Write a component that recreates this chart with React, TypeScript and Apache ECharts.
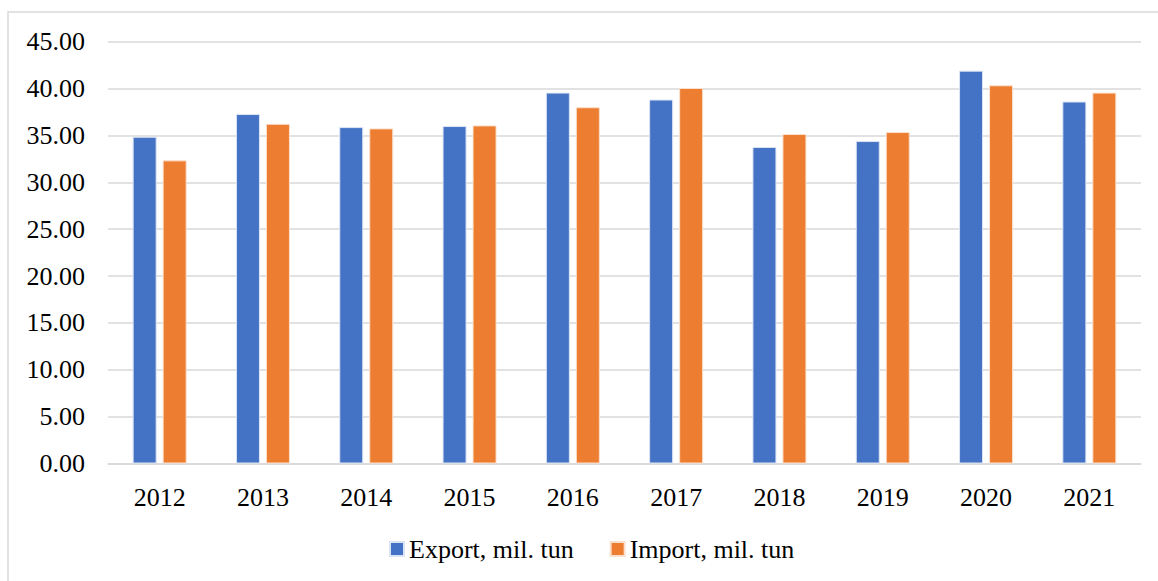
import React, { useEffect, useRef } from "react";
import * as echarts from "echarts";

const years = ["2012", "2013", "2014", "2015", "2016", "2017", "2018", "2019", "2020", "2021"];
const exportValues = [34.86, 37.28, 35.89, 36.0, 39.57, 38.83, 33.77, 34.4, 41.91, 38.62];
const importValues = [32.34, 36.24, 35.75, 36.07, 38.01, 40.06, 35.15, 35.36, 40.35, 39.57];
const seriesNames = ["Export, mil. tun", "Import, mil. tun"];

export default function App() {
  const ref = useRef<HTMLDivElement>(null);
  useEffect(() => {
    if (!ref.current) return;
    const chart = echarts.init(ref.current, null, { renderer: "svg" });
    const font = "'Liberation Serif', 'Times New Roman', serif";
    chart.setOption({
      animation: false,
      backgroundColor: "#ffffff",
      textStyle: { fontFamily: font },
      graphic: [
        {
          type: "rect",
          shape: { x: 8, y: 12, width: 1200, height: 620 },
          style: { fill: "none", stroke: "#d9d9d9", lineWidth: 1.5 },
          silent: true,
        },
      ],
      grid: { left: 108, right: 17, top: 41.7, bottom: 117.5 },
      legend: {
        data: seriesNames,
        bottom: 14,
        left: 384,
        itemWidth: 14,
        itemHeight: 14,
        itemGap: 36,
        icon: "rect",
        textStyle: { fontFamily: font, fontSize: 26, color: "#000" },
      },
      xAxis: {
        type: "category",
        data: years,
        axisLine: { show: true, lineStyle: { color: "#d9d9d9", width: 1.5 } },
        axisTick: { show: false },
        axisLabel: { fontFamily: font, fontSize: 26, color: "#000", margin: 21 },
      },
      yAxis: {
        type: "value",
        min: 0,
        max: 45,
        interval: 5,
        axisLine: { show: false },
        axisTick: { show: false },
        splitLine: { lineStyle: { color: "#d9d9d9", width: 1.5 } },
        axisLabel: {
          fontFamily: font,
          fontSize: 26,
          color: "#000",
          margin: 23,
          formatter: (v: number) => v.toFixed(2),
        },
      },
      series: [
        {
          name: seriesNames[0],
          type: "bar",
          data: exportValues,
          barWidth: 24,
          barGap: "25%",
          itemStyle: { color: "#4472C4", borderColor: "#dbe4f5", borderWidth: 1 },
        },
        {
          name: seriesNames[1],
          type: "bar",
          data: importValues,
          barWidth: 24,
          itemStyle: { color: "#ED7D31", borderColor: "#fbe0cd", borderWidth: 1 },
        },
      ],
    });
    return () => chart.dispose();
  }, []);
  return (
    <div
      ref={ref}
      style={{ position: "absolute", left: 0, top: 0, width: 1158, height: 581 }}
    />
  );
}
